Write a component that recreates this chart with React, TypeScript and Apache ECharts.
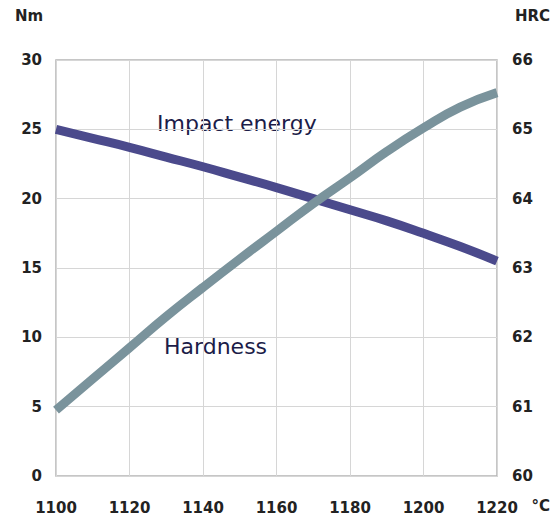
import React, { useEffect, useRef } from "react";
import * as echarts from "echarts";

const temperatures = [1100, 1110, 1120, 1130, 1140, 1150, 1160, 1170, 1180, 1190, 1200, 1210, 1220];
const impactEnergy = [25.0, 24.35, 23.7, 23.0, 22.3, 21.55, 20.8, 20.0, 19.2, 18.4, 17.5, 16.55, 15.5];
const hardness = [60.95, 61.4, 61.85, 62.3, 62.72, 63.13, 63.53, 63.93, 64.3, 64.68, 65.02, 65.32, 65.53];

const FONT = "'DejaVu Sans', 'Noto Sans', sans-serif";

export default function App() {
  const ref = useRef<HTMLDivElement>(null);
  useEffect(() => {
    if (!ref.current) return;
    const chart = echarts.init(ref.current, undefined, { renderer: "svg" });
    const labelStyle = { fontFamily: FONT, fontWeight: "bold" as const, fontSize: 15, color: "#222" };
    chart.setOption({
      animation: false,
      backgroundColor: "#fff",
      grid: { left: 56, right: 58, top: 60, bottom: 44, show: true, borderColor: "#b4b4b4", borderWidth: 1.5 },
      xAxis: {
        type: "value",
        min: 1100,
        max: 1220,
        interval: 20,
        axisLine: { show: false },
        axisTick: { show: false },
        splitLine: { lineStyle: { color: "#d6d6d6", width: 1 } },
        axisLabel: { ...labelStyle, margin: 24, formatter: (v: number) => String(v) },
      },
      yAxis: [
        {
          type: "value",
          min: 0,
          max: 30,
          interval: 5,
          axisLine: { show: false },
          axisTick: { show: false },
          splitLine: { lineStyle: { color: "#d6d6d6", width: 1 } },
          axisLabel: { ...labelStyle, margin: 14 },
        },
        {
          type: "value",
          min: 60,
          max: 66,
          interval: 1,
          position: "right",
          axisLine: { show: false },
          axisTick: { show: false },
          splitLine: { show: false },
          axisLabel: { ...labelStyle, margin: 15 },
        },
      ],
      series: [
        {
          name: "Impact energy",
          type: "line",
          smooth: true,
          showSymbol: false,
          yAxisIndex: 0,
          lineStyle: { color: "#4b4a8c", width: 9 },
          data: temperatures.map((t, i) => [t, impactEnergy[i]]),
        },
        {
          name: "Hardness",
          type: "line",
          smooth: true,
          showSymbol: false,
          yAxisIndex: 1,
          lineStyle: { color: "#7a939c", width: 9 },
          data: temperatures.map((t, i) => [t, hardness[i]]),
        },
      ],
      graphic: [
        { type: "text", left: 15, top: 8, style: { text: "Nm", font: `bold 15px ${FONT}`, fill: "#222" } },
        { type: "text", right: 5, top: 8, style: { text: "HRC", font: `bold 15px ${FONT}`, fill: "#222" } },
        { type: "text", right: 5, top: 498, style: { text: "°C", font: `bold 15px ${FONT}`, fill: "#222" } },
        { type: "text", left: 157, top: 112, style: { text: "Impact energy", font: `22px ${FONT}`, fill: "#1c1c48" } },
        { type: "text", left: 164, top: 335, style: { text: "Hardness", font: `22px ${FONT}`, fill: "#1c1c48" } },
      ],
    });
    return () => chart.dispose();
  }, []);
  return <div ref={ref} style={{ width: 555, height: 520, position: "absolute", left: 0, top: 0 }} />;
}
